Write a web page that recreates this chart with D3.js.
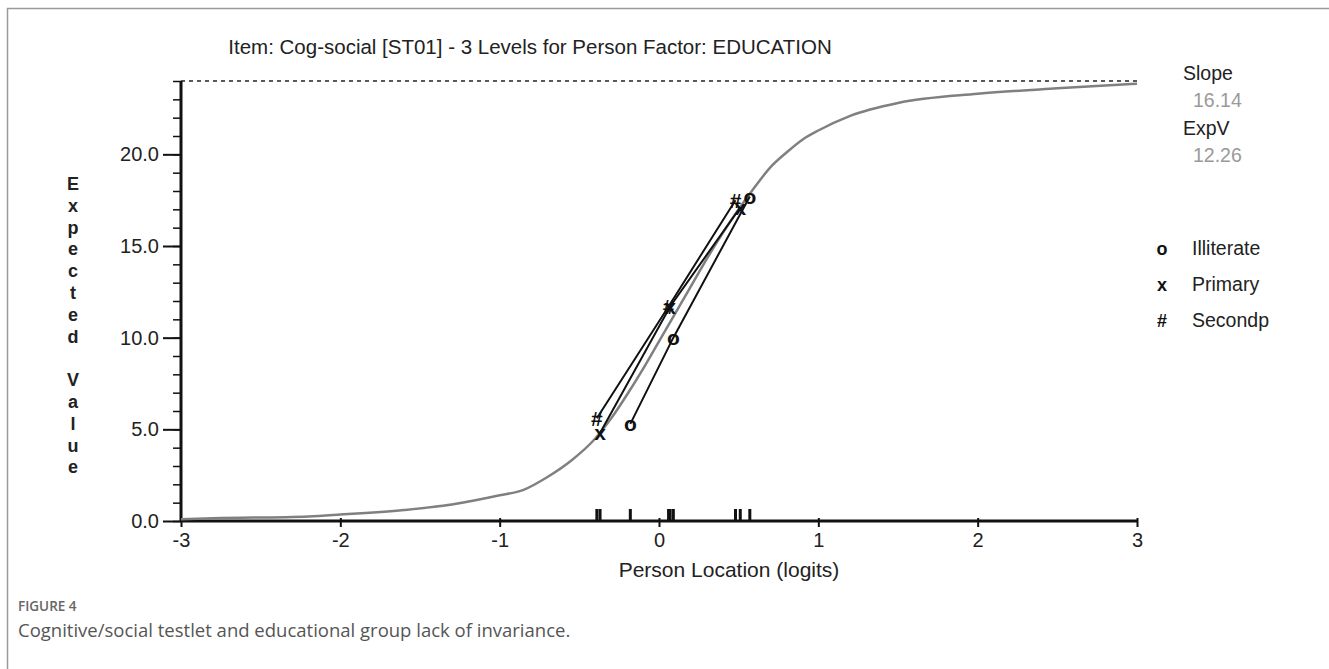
<!DOCTYPE html>
<html>
<head>
<meta charset="utf-8">
<script src="https://cdn.jsdelivr.net/npm/d3@7"></script>
<style>
  body { margin: 0; background: #fff; }
  svg { display: block; font-family: "Liberation Sans", Arial, sans-serif; }
  .axis path, .axis line { stroke: #111; }
  .axis text { fill: #222; }
</style>
</head>
<body>
<div id="chart"></div>
<script>
// expected value curve (logit, expected value)
var curveX = [-3.0, -2.8, -2.2, -2.0, -1.6, -1.3, -1.0, -0.85, -0.7, -0.55, -0.4, -0.3, -0.2, -0.1, 0.0, 0.1, 0.2, 0.3, 0.4, 0.5, 0.6, 0.7, 0.8, 0.9, 1.0, 1.2, 1.5, 2.0, 2.5, 3.0]
var curveY = [0.1, 0.15, 0.25, 0.35, 0.6, 0.9, 1.4, 1.7, 2.4, 3.3, 4.5, 5.6, 6.9, 8.3, 9.8, 11.3, 12.8, 14.3, 15.7, 17.0, 18.2, 19.3, 20.1, 20.8, 21.3, 22.1, 22.8, 23.3, 23.6, 23.85]

// class interval means per group
var groups = ["Illiterate", "Primary", "Secondp"]
var symbols = ["o", "x", "#"]
var illiterateX = [-0.18, 0.09, 0.57]
var illiterateY = [5.3, 10.0, 17.7]
var primaryX = [-0.37, 0.07, 0.51]
var primaryY = [4.8, 11.7, 17.1]
var secondpX = [-0.39, 0.06, 0.48]
var secondpY = [5.6, 11.7, 17.5]

var yMax = 24
var yMajor = [0, 5, 10, 15, 20]
var xTicks = [-3, -2, -1, 0, 1, 2, 3]

var slope = "16.14"
var expV = "12.26"

var W = 1329, H = 669

var svg = d3.select("#chart").append("svg")
  .attr("width", W)
  .attr("height", H)

// figure frame
svg.append("path")
  .attr("d", "M7.5," + H + "V8.5H" + W)
  .attr("fill", "none")
  .attr("stroke", "#9a9a9a")
  .attr("stroke-width", 1.5)

var x = d3.scaleLinear().domain([-3, 3]).range([181, 1137])
var y = d3.scaleLinear().domain([0, yMax]).range([521, 81])

svg.append("text")
  .attr("x", 530)
  .attr("y", 54)
  .attr("text-anchor", "middle")
  .attr("font-size", 20.5)
  .attr("fill", "#222")
  .text("Item: Cog-social [ST01] - 3 Levels for Person Factor: EDUCATION")

// dashed max line
svg.append("line")
  .attr("x1", x(-3)).attr("x2", x(3))
  .attr("y1", y(yMax)).attr("y2", y(yMax))
  .attr("stroke", "#222")
  .attr("stroke-width", 1.5)
  .attr("stroke-dasharray", "4,4")

// y axis minor + major
svg.append("g")
  .attr("class", "axis")
  .attr("transform", "translate(" + x(-3) + ",0)")
  .call(d3.axisLeft(y).tickValues(d3.range(0, yMax + 1)).tickSize(8).tickFormat(""))
  .call(g => g.select(".domain").remove())
  .call(g => g.selectAll("line").attr("stroke-width", 1.5))

var yAxis = svg.append("g")
  .attr("class", "axis")
  .attr("transform", "translate(" + x(-3) + ",0)")
  .call(d3.axisLeft(y).tickValues(yMajor).tickSize(18).tickPadding(4).tickFormat(d3.format(".1f")))
yAxis.select(".domain").attr("d", "M0," + y(0) + "V" + y(yMax)).attr("stroke-width", 3)
yAxis.selectAll("line").attr("stroke-width", 2)
yAxis.selectAll("text").attr("font-size", 20)

// x axis
var xAxis = svg.append("g")
  .attr("class", "axis")
  .attr("transform", "translate(0," + y(0) + ")")
  .call(d3.axisBottom(x).tickValues(xTicks).tickSize(6).tickPadding(6).tickFormat(d => String(d)))
xAxis.select(".domain").attr("d", "M" + x(-3) + ",0H" + x(3)).attr("stroke-width", 3)
xAxis.selectAll("line").attr("y1", -3).attr("stroke-width", 2)
xAxis.selectAll("text").attr("font-size", 20)

svg.append("text")
  .attr("x", 729)
  .attr("y", 577)
  .attr("text-anchor", "middle")
  .attr("font-size", 21)
  .attr("fill", "#222")
  .text("Person Location (logits)")

// y label stacked letters
var yLabel = "Expected Value".split("")
svg.append("g").selectAll("text")
  .data(yLabel)
  .join("text")
  .attr("x", 73)
  .attr("y", (d, i) => 190 + i * 21.8)
  .attr("text-anchor", "middle")
  .attr("font-size", 18)
  .attr("font-weight", "bold")
  .attr("fill", "#222")
  .text(d => d)

// expected value curve
var curve = curveX.map((d, i) => [d, curveY[i]])
svg.append("path")
  .datum(curve)
  .attr("fill", "none")
  .attr("stroke", "#808080")
  .attr("stroke-width", 2.5)
  .attr("d", d3.line().x(d => x(d[0])).y(d => y(d[1])).curve(d3.curveMonotoneX))

var groupData = [
  { name: groups[0], sym: symbols[0], xs: illiterateX, ys: illiterateY },
  { name: groups[1], sym: symbols[1], xs: primaryX, ys: primaryY },
  { name: groups[2], sym: symbols[2], xs: secondpX, ys: secondpY }
]

// rug of class interval locations
var rug = []
groupData.forEach(g => g.xs.forEach(v => rug.push(v)))
svg.append("g").selectAll("line")
  .data(rug)
  .join("line")
  .attr("x1", d => x(d)).attr("x2", d => x(d))
  .attr("y1", y(0)).attr("y2", y(0) - 12)
  .attr("stroke", "#111")
  .attr("stroke-width", 3)

// observed lines and markers
groupData.forEach(g => {
  var pts = g.xs.map((v, i) => [v, g.ys[i]])
  svg.append("path")
    .datum(pts)
    .attr("fill", "none")
    .attr("stroke", "#111")
    .attr("stroke-width", 2)
    .attr("d", d3.line().x(d => x(d[0])).y(d => y(d[1])))
  svg.append("g").selectAll("text")
    .data(pts)
    .join("text")
    .attr("x", d => x(d[0]))
    .attr("y", d => y(d[1]))
    .attr("dy", "0.35em")
    .attr("text-anchor", "middle")
    .attr("font-size", 21)
    .attr("font-weight", "bold")
    .attr("fill", "#111")
    .text(g.sym)
})

// slope / expv
var info = [["Slope", slope], ["ExpV", expV]]
info.forEach((d, i) => {
  svg.append("text")
    .attr("x", 1183).attr("y", 80 + i * 55)
    .attr("font-size", 19.5).attr("fill", "#222")
    .text(d[0])
  svg.append("text")
    .attr("x", 1193).attr("y", 107 + i * 55)
    .attr("font-size", 19.5).attr("fill", "#999")
    .text(d[1])
})

// legend
var legend = svg.append("g").selectAll("g")
  .data(groupData)
  .join("g")
  .attr("transform", (d, i) => "translate(0," + (255 + i * 36) + ")")
legend.append("text")
  .attr("x", 1162)
  .attr("text-anchor", "middle")
  .attr("font-size", 18)
  .attr("font-weight", "bold")
  .attr("fill", "#111")
  .text(d => d.sym)
legend.append("text")
  .attr("x", 1192)
  .attr("font-size", 19.5)
  .attr("fill", "#222")
  .text(d => d.name)

// caption
svg.append("text")
  .attr("x", 18).attr("y", 611)
  .attr("font-family", "'Open Sans', sans-serif")
  .attr("font-size", 13.5)
  .attr("font-weight", 600)
  .attr("fill", "#666")
  .text("FIGURE 4")
svg.append("text")
  .attr("x", 18).attr("y", 637)
  .attr("font-family", "'Open Sans', sans-serif")
  .attr("font-size", 18.5)
  .attr("fill", "#555")
  .text("Cognitive/social testlet and educational group lack of invariance.")
</script>
</body>
</html>
